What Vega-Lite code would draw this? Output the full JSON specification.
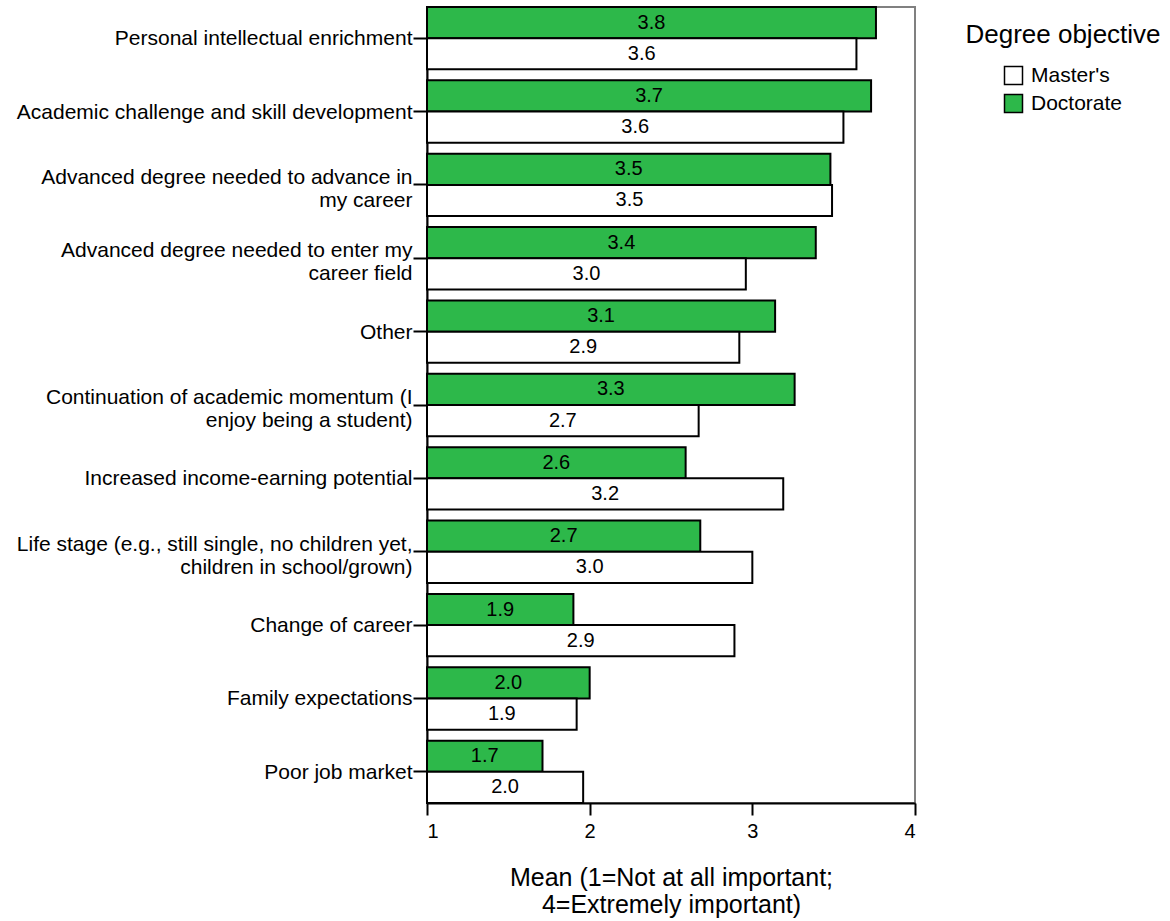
{
  "$schema": "https://vega.github.io/schema/vega-lite/v6.json",
  "autosize": {"type": "none"},
  "width": 488,
  "height": 796,
  "padding": {"left": 427, "top": 7, "right": 255, "bottom": 118},
  "background": "white",
  "config": {
    "font": "Liberation Sans",
    "view": {"stroke": "#808080", "strokeWidth": 2},
    "axis": {"grid": false, "domainColor": "black", "domainWidth": 2, "tickColor": "black", "tickWidth": 2, "labelColor": "black", "titleColor": "black", "labelFont": "Liberation Sans", "titleFont": "Liberation Sans"}
  },
  "data": {
    "values": [
      {"reason": "Personal intellectual enrichment", "degree": "Doctorate", "mean": 3.76},
      {"reason": "Personal intellectual enrichment", "degree": "Master's", "mean": 3.64},
      {"reason": "Academic challenge and skill development", "degree": "Doctorate", "mean": 3.73},
      {"reason": "Academic challenge and skill development", "degree": "Master's", "mean": 3.56},
      {"reason": "Advanced degree needed to advance in my career", "degree": "Doctorate", "mean": 3.48},
      {"reason": "Advanced degree needed to advance in my career", "degree": "Master's", "mean": 3.49},
      {"reason": "Advanced degree needed to enter my career field", "degree": "Doctorate", "mean": 3.39},
      {"reason": "Advanced degree needed to enter my career field", "degree": "Master's", "mean": 2.96},
      {"reason": "Other", "degree": "Doctorate", "mean": 3.14},
      {"reason": "Other", "degree": "Master's", "mean": 2.92},
      {"reason": "Continuation of academic momentum (I enjoy being a student)", "degree": "Doctorate", "mean": 3.26},
      {"reason": "Continuation of academic momentum (I enjoy being a student)", "degree": "Master's", "mean": 2.67},
      {"reason": "Increased income-earning potential", "degree": "Doctorate", "mean": 2.59},
      {"reason": "Increased income-earning potential", "degree": "Master's", "mean": 3.19},
      {"reason": "Life stage (e.g., still single, no children yet, children in school/grown)", "degree": "Doctorate", "mean": 2.68},
      {"reason": "Life stage (e.g., still single, no children yet, children in school/grown)", "degree": "Master's", "mean": 3.0},
      {"reason": "Change of career", "degree": "Doctorate", "mean": 1.9},
      {"reason": "Change of career", "degree": "Master's", "mean": 2.89},
      {"reason": "Family expectations", "degree": "Doctorate", "mean": 2.0},
      {"reason": "Family expectations", "degree": "Master's", "mean": 1.92},
      {"reason": "Poor job market", "degree": "Doctorate", "mean": 1.71},
      {"reason": "Poor job market", "degree": "Master's", "mean": 1.96}
    ]
  },
  "encoding": {
    "y": {
      "field": "reason", "type": "nominal", "sort": null,
      "scale": {"paddingInner": 0.15, "paddingOuter": 0},
      "axis": {
        "title": null, "labelFontSize": 21, "labelPadding": 1, "tickSize": 14, "labelLimit": 430, "labelLineHeight": 23,
        "labelOffset": {"condition": {"test": "indexof(['Advanced degree needed to advance in my career','Advanced degree needed to enter my career field','Continuation of academic momentum (I enjoy being a student)','Life stage (e.g., still single, no children yet, children in school/grown)'], datum.value) >= 0", "value": -7}, "value": 1},
        "labelExpr": "datum.label == 'Advanced degree needed to advance in my career' ? ['Advanced degree needed to advance in', 'my career'] : datum.label == 'Advanced degree needed to enter my career field' ? ['Advanced degree needed to enter my', 'career field'] : datum.label == 'Continuation of academic momentum (I enjoy being a student)' ? ['Continuation of academic momentum (I', 'enjoy being a student)'] : datum.label == 'Life stage (e.g., still single, no children yet, children in school/grown)' ? ['Life stage (e.g., still single, no children yet,', 'children in school/grown)'] : datum.label"
      }
    },
    "yOffset": {"field": "degree", "type": "nominal", "scale": {"domain": ["Doctorate", "Master's"], "paddingInner": 0, "paddingOuter": 0}}
  },
  "layer": [
    {
      "mark": {"type": "bar", "stroke": "black", "strokeWidth": 2, "opacity": 1},
      "encoding": {
        "x": {
          "field": "mean", "type": "quantitative",
          "scale": {"domain": [1, 4], "nice": false, "zero": false},
          "axis": {"values": [1, 2, 3, 4], "format": "d", "labelFontSize": 20, "tickSize": 12, "labelPadding": 6,
                   "title": ["Mean (1=Not at all important;", "4=Extremely important)"], "titleFontSize": 25, "titleFontWeight": "normal", "titlePadding": 24, "titleLineHeight": 27}
        },
        "x2": {"datum": 1},
        "fill": {
          "field": "degree", "type": "nominal",
          "scale": {"domain": ["Master's", "Doctorate"], "range": ["white", "#2db84a"]},
          "legend": {
            "title": "Degree objective", "orient": "none", "legendX": 538, "legendY": 15,
            "titleFontSize": 26, "titleFontWeight": "normal", "titleColor": "black", "titleAnchor": "middle", "titlePadding": 17, "titleLimit": 400,
            "labelFontSize": 21, "labelColor": "black", "symbolType": "square", "symbolSize": 324,
            "symbolStrokeColor": "black", "symbolStrokeWidth": 1.5, "symbolOpacity": 1, "rowPadding": 3, "labelOffset": 7
          }
        }
      }
    },
    {
      "transform": [{"calculate": "(1 + datum.mean) / 2", "as": "labelPos"}],
      "mark": {"type": "text", "fontSize": 20, "color": "black", "baseline": "middle", "align": "center"},
      "encoding": {
        "x": {"field": "labelPos", "type": "quantitative"},
        "text": {"field": "mean", "type": "quantitative", "format": ".1f"}
      }
    }
  ]
}
